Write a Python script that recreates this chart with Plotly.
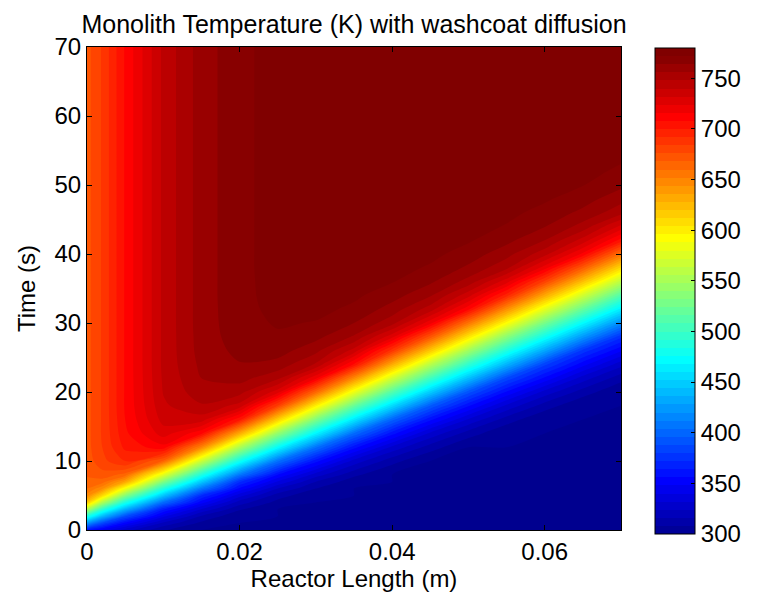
import numpy as np
import plotly.graph_objects as go

# reactor position (m) and time (s) grid
length_m = [0, 0.002, 0.005, 0.01, 0.015, 0.02, 0.025, 0.03, 0.035, 0.04, 0.045, 0.05,
            0.055, 0.06, 0.065, 0.07]
time_s = [0, 1, 2, 3, 4, 5, 6, 7, 8, 10, 12, 14, 16, 18, 20, 22, 24, 26, 28, 30,
          32, 34, 36, 38, 40, 42, 44, 46, 48, 50, 52, 55, 60, 65, 70]

# monolith temperature (K), one list per reactor position, listed along time_s
T_x0000 = [360, 423, 486, 556, 619, 649, 660, 666, 669, 672, 673, 673, 673, 673, 673, 673, 673, 673,
           673, 673, 673, 673, 673, 673, 673, 673, 673, 673, 673, 673, 673, 673, 673, 673, 673]
T_x0002 = [346, 386, 441, 495, 555, 610, 646, 664, 673, 681, 684, 685, 685, 685, 685, 685, 685, 685,
           685, 685, 685, 685, 685, 685, 685, 685, 685, 685, 685, 685, 685, 685, 685, 685, 685]
T_x0005 = [328, 353, 389, 437, 485, 536, 587, 635, 665, 693, 702, 706, 708, 709, 709, 709, 709, 709,
           709, 709, 709, 709, 709, 709, 709, 709, 709, 709, 709, 709, 709, 709, 709, 709, 709]
T_x0010 = [309, 322, 342, 365, 403, 446, 489, 533, 579, 667, 713, 728, 735, 738.5, 740.5, 741.4, 742, 742,
           742, 742, 742, 742, 742, 742, 742, 742, 742, 742, 742, 742, 742, 742, 742, 742, 742]
T_x0015 = [300, 306, 315, 331, 351, 372, 409, 448, 487, 568, 650, 710, 736, 747, 753, 756, 758, 759.3,
           759.7, 760, 760, 760, 760, 760, 760, 760, 760, 760, 760, 760, 760, 760, 760, 760, 760]
T_x0020 = [300, 300, 301, 309, 320, 335, 354, 373, 408, 480, 554, 632, 703, 737, 751, 759, 763.5, 766.2,
           768, 768.8, 769.2, 769.5, 769.5, 769.5, 769.5, 769.5, 769.5, 769.5, 769.5, 769.5, 769.5,
           769.5, 769.5, 769.5, 769.5]
T_x0025 = [300, 300, 300, 300, 305, 312, 324, 339, 356, 406, 474, 542, 615, 683, 728, 750, 761, 767.6,
           770.8, 772.9, 774.4, 775.2, 775.6, 776, 776, 776, 776, 776, 776, 776, 776, 776, 776, 776, 776]
T_x0030 = [300, 300, 300, 300, 300, 301, 308, 316, 328, 359, 406, 469, 532, 599, 664, 718, 747, 758.5,
           766.5, 771.5, 774.4, 776.2, 777.5, 778.2, 778.6, 779, 779, 779, 779, 779, 779, 779, 779, 779, 779]
T_x0035 = [300, 300, 300, 300, 300, 300, 300, 303, 310, 329, 359, 403, 462, 521, 584, 647, 707, 737,
           755, 764, 770.3, 773.6, 776, 777.7, 778.7, 779.3, 779.6, 780, 780, 780, 780, 780, 780, 780, 780]
T_x0040 = [300, 300, 300, 300, 300, 300, 300, 300, 300, 311, 330, 359, 399, 456, 512, 571, 632, 688,
           727, 751, 760.5, 767.5, 772.5, 775.2, 777, 778.4, 779.5, 779.8, 780.2, 780.5, 780.5, 780.5,
           780.5, 780.5, 780.5]
T_x0045 = [300, 300, 300, 300, 300, 300, 300, 300, 300, 300, 312, 330, 358, 395, 449, 503, 559, 618,
           673, 719, 744, 757, 765.5, 771, 774.3, 776.6, 778.2, 779.3, 780.1, 780.4, 780.7, 781, 781, 781, 781]
T_x0050 = [300, 300, 300, 300, 300, 300, 300, 300, 300, 300, 300, 312, 331, 357, 391, 443, 495, 548,
           604, 658, 710, 735, 753, 762.5, 768.5, 773, 775.4, 777.2, 778.7, 779.6, 780.2, 780.7, 781, 781, 781]
T_x0055 = [300, 300, 300, 300, 300, 300, 300, 300, 300, 300, 300, 301, 312, 330, 355, 386, 437, 487,
           537, 592, 645, 696, 727.5, 750, 759, 766.4, 771.4, 774.3, 776.5, 778, 779.1, 780.2, 781, 781, 781]
T_x0060 = [300, 300, 300, 300, 300, 300, 300, 300, 300, 300, 300, 300, 301, 312, 329, 354, 382, 431,
           479.5, 528, 580, 633, 682, 720, 743, 756, 764.4, 769.3, 773.2, 775.5, 777.2, 779, 780.4, 781, 781]
T_x0065 = [300, 300, 300, 300, 300, 300, 300, 300, 300, 300, 300, 300, 300, 301, 312, 328, 351, 377,
           424, 472, 520, 570, 622, 670, 714, 737, 753, 762, 767.6, 772.3, 774.6, 777.3, 779.9, 780.7, 781]
T_x0070 = [300, 300, 300, 300, 300, 300, 300, 300, 300, 300, 300, 300, 300, 300, 301, 311, 327, 349,
           374, 418, 465, 511, 560, 610, 659, 705, 730, 751, 759, 766, 770.5, 774.8, 778.6, 780.3, 781]

cbar_ticks = [300, 350, 400, 450, 500, 550, 600, 650, 700, 750]

temp = np.column_stack([T_x0000, T_x0002, T_x0005, T_x0010, T_x0015, T_x0020, T_x0025, T_x0030,
                        T_x0035, T_x0040, T_x0045, T_x0050, T_x0055, T_x0060, T_x0065, T_x0070])

# matlab style jet
jet = [[0, 'rgb(0,0,143)'], [0.111, 'rgb(0,0,255)'], [0.365, 'rgb(0,255,255)'],
       [0.619, 'rgb(255,255,0)'], [0.873, 'rgb(255,0,0)'], [1, 'rgb(128,0,0)']]

font = dict(family='Liberation Sans, Arial, sans-serif', size=24, color='black')

fig = go.Figure(go.Contour(
    x=length_m, y=time_s, z=temp,
    colorscale=jet, zmin=300, zmax=780,
    autocontour=False,
    contours=dict(start=300, end=772, size=8, coloring='fill', showlines=False),
    line=dict(width=0, smoothing=0.8),
    colorbar=dict(thickness=40, thicknessmode='pixels', len=486, lenmode='pixels',
                  x=1.063, xanchor='left', y=0.495, yanchor='middle',
                  outlinecolor='black', outlinewidth=1,
                  ticks='inside', ticklen=4, tickcolor='black',
                  tickvals=cbar_ticks, tickfont=font, xpad=0, ypad=0),
))

axis = dict(showline=True, linecolor='black', linewidth=1, mirror='ticks',
            ticks='inside', ticklen=5, tickcolor='black', tickfont=font,
            showgrid=False, zeroline=False)

# page body adds 8px, so the figure is a bit smaller than the window
fig.update_layout(
    width=749, height=589,
    margin=dict(l=79, r=132, t=39, b=67),
    paper_bgcolor='white', plot_bgcolor='white',
    font=font,
    title=dict(text='Monolith Temperature (K) with washcoat diffusion',
               xref='paper', x=0.5, xanchor='center', y=0.973, yanchor='middle',
               font=dict(font, size=25)),
    xaxis=dict(axis, range=[0, 0.07], tickvals=[0, 0.02, 0.04, 0.06],
               ticktext=['0', '0.02', '0.04', '0.06'],
               title=dict(text='Reactor Length (m)', font=font, standoff=3)),
    yaxis=dict(axis, range=[0, 70], tickvals=[0, 10, 20, 30, 40, 50, 60, 70],
               title=dict(text='Time (s)', font=font, standoff=12)),
)

fig.write_html("out.html")
